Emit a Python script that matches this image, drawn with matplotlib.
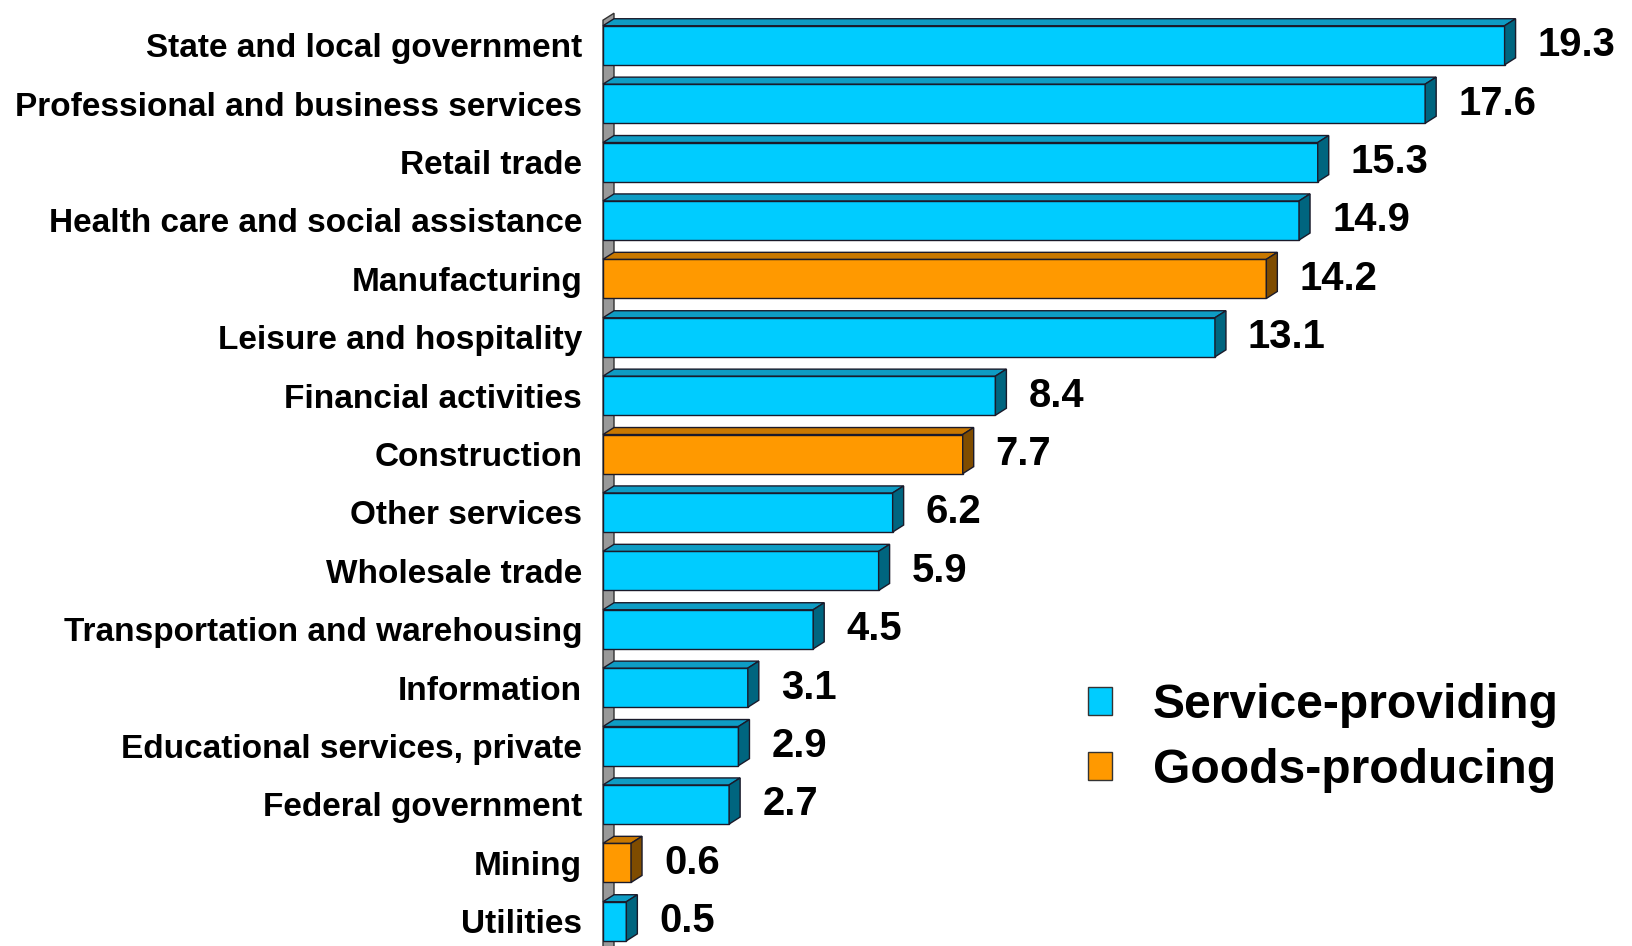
import matplotlib
matplotlib.use("Agg")
import matplotlib.pyplot as plt
from matplotlib.patches import Polygon, Patch

plt.rcParams['font.family'] = ['Liberation Sans', 'DejaVu Sans']
plt.rcParams['font.weight'] = 'bold'

categories = ["State and local government", "Professional and business services",
              "Retail trade", "Health care and social assistance", "Manufacturing",
              "Leisure and hospitality", "Financial activities", "Construction",
              "Other services", "Wholesale trade", "Transportation and warehousing",
              "Information", "Educational services, private", "Federal government",
              "Mining", "Utilities"]
values = [19.3, 17.6, 15.3, 14.9, 14.2, 13.1, 8.4, 7.7, 6.2, 5.9, 4.5, 3.1, 2.9, 2.7, 0.6, 0.5]
sector = ["S", "S", "S", "S", "G", "S", "S", "G", "S", "S", "S", "S", "S", "S", "G", "S"]
legend_labels = {"S": "Service-providing", "G": "Goods-producing"}

front = {"S": "#00CCFF", "G": "#FF9900"}
topc = {"S": "#0E9CC4", "G": "#C97800"}
sidec = {"S": "#00657F", "G": "#7F4C00"}
edge = "#1a1a2a"

W, H = 1632, 946
fig = plt.figure(figsize=(W / 100, H / 100), dpi=100)
ax_left = 603 / W
ax_w = 981 / W
ax = fig.add_axes([ax_left, 0, ax_w, 941 / H])
xmax = 21.0
ax.set_xlim(0, xmax)
ymin_top = -0.69
ax.set_ylim(ymin_top + 941 / 58.4, ymin_top)

# depth offsets in data units
px_x = xmax / 981.0
px_y = 1 / 58.4
dx = 11 * px_x
dy = 7 * px_y
bh = 0.67

n = len(values)
ys = list(range(n))

# left wall
wall_top = -0.43
wall_bot = ymin_top + 941 / 58.4 + 0.5
wall = Polygon([(0, wall_bot), (0, wall_top), (dx, wall_top - dy), (dx, wall_bot)],
               closed=True, facecolor="#999999", edgecolor="#333333", lw=1.0,
               zorder=1, clip_on=False)
ax.add_patch(wall)

for y, v, s in zip(ys, values, sector):
    t = y - bh / 2
    b = y + bh / 2
    ax.barh(y, v, height=bh, color=front[s], edgecolor=edge, linewidth=1.0, zorder=3)
    top = Polygon([(0, t), (dx, t - dy), (v + dx, t - dy), (v, t)], closed=True,
                  facecolor=topc[s], edgecolor=edge, lw=1.0, zorder=3, clip_on=False)
    side = Polygon([(v, t), (v + dx, t - dy), (v + dx, b - dy), (v, b)], closed=True,
                   facecolor=sidec[s], edgecolor=edge, lw=1.0, zorder=3, clip_on=False)
    ax.add_patch(top)
    ax.add_patch(side)
    ax.text(v + dx + 22 * px_x, y, f"{v:.1f}", va="center", ha="left",
            fontsize=28.8, fontweight="bold", color="black", clip_on=False)

ax.set_yticks(ys)
ax.set_yticklabels(categories, fontsize=24, fontweight="bold")
ax.tick_params(axis="y", length=0, pad=15)
ax.set_xticks([])
for sp in ax.spines.values():
    sp.set_visible(False)
ax.patch.set_alpha(0)

handles = [Patch(facecolor=front[k], edgecolor="#333333", label=legend_labels[k]) for k in ["S", "G"]]
fig.legend(handles=handles, loc="center left", bbox_to_anchor=(1045 / W, 1 - 738 / H),
           frameon=False, prop={"size": 34.6, "weight": "bold"},
           handlelength=0.5, handleheight=0.5, handletextpad=0.85, labelspacing=0.42)

fig.savefig("out.png", dpi=100, facecolor="white")
